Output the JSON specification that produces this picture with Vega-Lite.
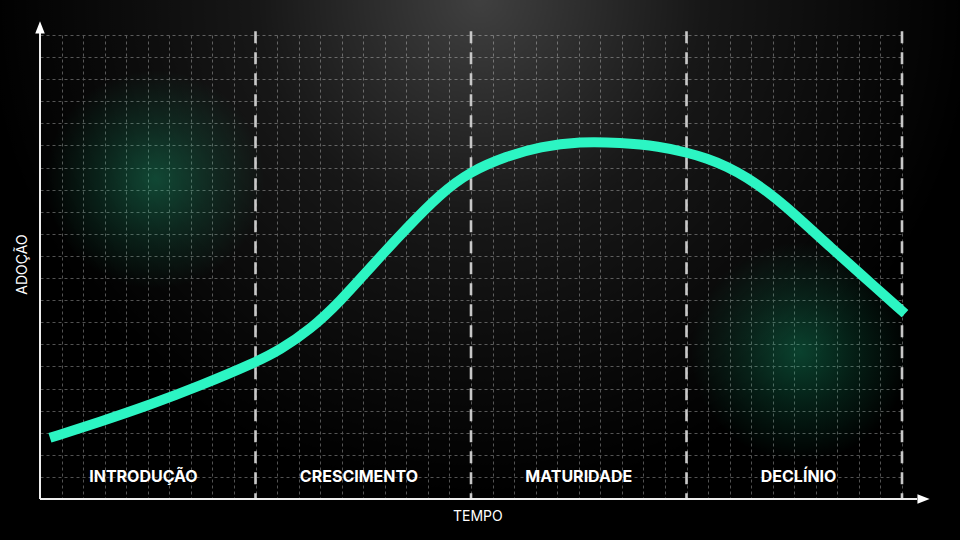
{
  "$schema": "https://vega.github.io/schema/vega-lite/v6.json",
  "width": 862,
  "height": 464,
  "autosize": {"type": "none"},
  "padding": {"left": 40, "top": 35, "right": 58, "bottom": 41},
  "background": "#000000",
  "config": {
    "view": {"stroke": null},
    "font": "Inter",
    "axis": {
      "grid": true,
      "gridColor": "#525252",
      "gridDash": [3, 3],
      "gridWidth": 1,
      "labels": false,
      "ticks": false,
      "domain": false
    },
    "axisX": {"tickCount": 40},
    "axisY": {"tickCount": 21}
  },
  "datasets": {
    "curve": [
      {"t": 0.46, "adoption": 2.77},
      {"t": 2.78, "adoption": 3.49},
      {"t": 5.10, "adoption": 4.26},
      {"t": 7.42, "adoption": 5.12},
      {"t": 9.98, "adoption": 6.17},
      {"t": 11.14, "adoption": 6.75},
      {"t": 12.53, "adoption": 7.66},
      {"t": 13.92, "adoption": 8.93},
      {"t": 15.45, "adoption": 10.61},
      {"t": 17.03, "adoption": 12.28},
      {"t": 18.56, "adoption": 13.80},
      {"t": 19.95, "adoption": 14.82},
      {"t": 21.67, "adoption": 15.52},
      {"t": 23.20, "adoption": 15.95},
      {"t": 25.06, "adoption": 16.18},
      {"t": 26.91, "adoption": 16.13},
      {"t": 28.77, "adoption": 15.96},
      {"t": 30.02, "adoption": 15.68},
      {"t": 30.95, "adoption": 15.42},
      {"t": 31.88, "adoption": 15.05},
      {"t": 32.81, "adoption": 14.55},
      {"t": 33.74, "adoption": 13.92},
      {"t": 34.66, "adoption": 13.19},
      {"t": 35.27, "adoption": 12.65},
      {"t": 36.66, "adoption": 11.42},
      {"t": 38.05, "adoption": 10.20},
      {"t": 40.14, "adoption": 8.39}
    ],
    "stages": [
      {"t": 4.8, "end": 10, "label": "INTRODUÇÃO"},
      {"t": 14.8, "end": 20, "label": "CRESCIMENTO"},
      {"t": 25.0, "end": 30, "label": "MATURIDADE"},
      {"t": 35.2, "end": 40, "label": "DECLÍNIO"}
    ],
    "glows": [
      {"t": 5.34, "adoption": 14.46},
      {"t": 35.27, "adoption": 6.66}
    ]
  },
  "layer": [
    {
      "description": "soft light from the top centre",
      "data": {"values": [{"t": 20.42, "adoption": 22.62}]},
      "mark": {
        "type": "point",
        "shape": "circle",
        "filled": true,
        "size": 985000,
        "strokeWidth": 0,
        "opacity": 1,
        "fill": {
          "gradient": "radial",
          "x1": 0.5, "y1": 0.5, "r1": 0,
          "x2": 0.5, "y2": 0.5, "r2": 0.5,
          "stops": [
            {"offset": 0, "color": "rgba(255,255,255,0.25)"},
            {"offset": 0.45, "color": "rgba(255,255,255,0.09)"},
            {"offset": 1, "color": "rgba(255,255,255,0)"}
          ]
        }
      },
      "encoding": {
        "x": {"field": "t", "type": "quantitative", "scale": {"domain": [0, 40], "nice": false, "zero": false}, "title": null},
        "y": {"field": "adoption", "type": "quantitative", "scale": {"domain": [0, 21], "nice": false, "zero": false}, "title": null}
      }
    },
    {
      "description": "green glows",
      "data": {"name": "glows"},
      "mark": {
        "type": "point",
        "shape": "circle",
        "filled": true,
        "size": 48000,
        "strokeWidth": 0,
        "opacity": 1,
        "fill": {
          "gradient": "radial",
          "x1": 0.5, "y1": 0.5, "r1": 0,
          "x2": 0.5, "y2": 0.5, "r2": 0.5,
          "stops": [
            {"offset": 0, "color": "rgba(30,200,140,0.32)"},
            {"offset": 0.5, "color": "rgba(30,200,140,0.15)"},
            {"offset": 1, "color": "rgba(30,200,140,0)"}
          ]
        }
      },
      "encoding": {
        "x": {"field": "t", "type": "quantitative", "scale": {"domain": [0, 40], "nice": false, "zero": false}, "title": null},
        "y": {"field": "adoption", "type": "quantitative", "scale": {"domain": [0, 21], "nice": false, "zero": false}, "title": null}
      }
    },
    {
      "description": "stage boundaries",
      "data": {"name": "stages"},
      "mark": {"type": "rule", "color": "#c8c8c8", "strokeWidth": 2.6, "strokeDash": [12, 9]},
      "encoding": {
        "x": {"field": "end", "type": "quantitative", "scale": {"domain": [0, 40], "nice": false, "zero": false}, "title": null},
        "y": {"datum": 21.17, "type": "quantitative", "scale": {"domain": [0, 21], "nice": false, "zero": false}, "title": null},
        "y2": {"datum": 0}
      }
    },
    {
      "description": "product life cycle curve",
      "data": {"name": "curve"},
      "mark": {"type": "line", "color": "#2cf5c3", "strokeWidth": 10, "interpolate": "basis", "strokeCap": "butt"},
      "encoding": {
        "x": {"field": "t", "type": "quantitative", "scale": {"domain": [0, 40], "nice": false, "zero": false}, "title": null},
        "y": {"field": "adoption", "type": "quantitative", "scale": {"domain": [0, 21], "nice": false, "zero": false}, "title": null}
      }
    },
    {
      "description": "stage names",
      "data": {"name": "stages"},
      "mark": {"type": "text", "color": "#ffffff", "fontSize": 16, "fontWeight": "bold", "font": "Inter", "align": "center", "baseline": "middle"},
      "encoding": {
        "x": {"field": "t", "type": "quantitative", "scale": {"domain": [0, 40], "nice": false, "zero": false}, "title": null},
        "y": {"datum": 1.0, "type": "quantitative", "scale": {"domain": [0, 21], "nice": false, "zero": false}, "title": null},
        "text": {"field": "label"}
      }
    },
    {
      "description": "axis lines",
      "data": {"values": [
        {"x0": 0, "y0": 0, "x1": 0, "y1": 21.13},
        {"x0": 0, "y0": 0, "x1": 40.7, "y1": 0}
      ]},
      "mark": {"type": "rule", "color": "#eeeeee", "strokeWidth": 2},
      "encoding": {
        "x": {"field": "x0", "type": "quantitative", "scale": {"domain": [0, 40], "nice": false, "zero": false}, "title": null},
        "y": {"field": "y0", "type": "quantitative", "scale": {"domain": [0, 21], "nice": false, "zero": false}, "title": null},
        "x2": {"field": "x1"},
        "y2": {"field": "y1"}
      }
    },
    {
      "description": "arrow heads",
      "data": {"values": [
        {"t": 0, "adoption": 21.35, "dir": "up"},
        {"t": 41.0, "adoption": 0, "dir": "right"}
      ]},
      "mark": {"type": "point", "filled": true, "color": "#ffffff", "opacity": 1, "size": 150, "strokeWidth": 0},
      "encoding": {
        "x": {"field": "t", "type": "quantitative", "scale": {"domain": [0, 40], "nice": false, "zero": false}, "title": null},
        "y": {"field": "adoption", "type": "quantitative", "scale": {"domain": [0, 21], "nice": false, "zero": false}, "title": null},
        "shape": {
          "field": "dir", "type": "nominal", "legend": null,
          "scale": {"domain": ["up", "right"], "range": ["M0,-1L-0.78,1L0.78,1Z", "M1,0L-1,-0.78L-1,0.78Z"]}
        }
      }
    },
    {
      "description": "axis titles",
      "data": {"values": [
        {"t": 20.32, "adoption": -0.82, "label": "TEMPO", "angle": 0},
        {"t": -0.81, "adoption": 10.61, "label": "ADOÇÃO", "angle": 270}
      ]},
      "mark": {"type": "text", "color": "#ffffff", "fontSize": 14, "font": "Inter", "align": "center", "baseline": "middle"},
      "encoding": {
        "x": {"field": "t", "type": "quantitative", "scale": {"domain": [0, 40], "nice": false, "zero": false}, "title": null},
        "y": {"field": "adoption", "type": "quantitative", "scale": {"domain": [0, 21], "nice": false, "zero": false}, "title": null},
        "text": {"field": "label"},
        "angle": {"field": "angle", "type": "quantitative", "scale": null}
      }
    }
  ]
}
